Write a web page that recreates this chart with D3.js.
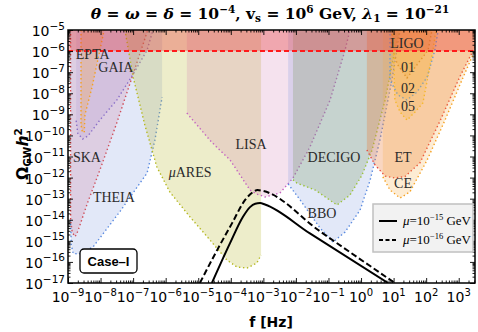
<!DOCTYPE html>
<html lang="en">
<meta charset="utf-8">
<title>GW spectrum vs detector sensitivities</title>
<style>
  body { margin: 0; background: #fff; }
  svg { font-family: "DejaVu Sans", sans-serif; }
  .det { font-family: "Liberation Serif", serif; font-size: 14px; fill: #2a2a2a; }
  .tick-label { font-size: 14px; fill: #000; }
</style>
<body>
<svg class="chart" width="478" height="332"></svg>
<script src="https://d3js.org/d3.v7.min.js"></script>
<script>
// all curves as [log10 f/Hz, log10 Omega h^2]
var ska    = [[-8.92,-5],[-8.92,-14.0],[-8.87,-14.6],[-8.78,-14.8],[-8.70,-14.55],[-8.40,-13.2],[-8.02,-11.64],[-7.50,-9.4],[-7.03,-7.23],[-6.55,-5]];
var theia  = [[-8.92,-14.0],[-8.90,-15.2],[-8.84,-15.6],[-8.65,-15.62],[-8.23,-15.29],[-7.40,-13.6],[-6.57,-11.78],[-6.33,-10.22],[-6.11,-8.18]];
var gaia   = [[-8.75,-9.3],[-8.70,-9.9],[-8.55,-10.17],[-8.39,-10.03],[-8.02,-9.27],[-7.50,-8.32],[-7.00,-7.1],[-6.57,-5.95],[-6.39,-5]];
var epta   = [[-8.60,-5],[-8.60,-9.5],[-8.56,-9.82],[-8.50,-9.86],[-8.48,-9.03],[-8.26,-7.70],[-8.02,-5.95],[-7.89,-5]];
var mares  = [[-7.25,-5],[-7.00,-7.23],[-6.64,-9.51],[-6.27,-11.50],[-5.87,-12.69],[-5.25,-13.87],[-4.64,-14.96],[-4.12,-15.91],[-3.81,-16.24],[-3.50,-16.29],[-3.20,-16.05],[-3.07,-15.67]];
var lisa   = [[-5.35,-8.94],[-4.60,-10.3],[-4.02,-11.17],[-3.41,-12.59],[-3.20,-12.78],[-2.95,-12.92],[-2.49,-12.73],[-2.09,-12.02],[-1.57,-10.55],[-0.95,-8.32],[-0.49,-5.95],[-0.34,-5]];
var bbo    = [[-2.24,-12.3],[-1.87,-13.06],[-1.26,-14.39],[-0.86,-15.06],[-0.49,-14.58],[-0.03,-13.54],[0.28,-12.12],[0.58,-10.22],[0.95,-7.37],[1.20,-5]];
var decigo = [[-2.09,-12.1],[-1.97,-12.26],[-1.41,-12.59],[-0.74,-13.30],[-0.34,-12.83],[0.03,-11.88],[0.34,-10.69],[0.74,-8.32],[1.04,-5.95],[1.20,-5]];
var et     = [[0.18,-10.69],[0.43,-11.4],[0.74,-11.93],[1.04,-12.02],[1.35,-11.95],[1.81,-11.3],[2.43,-9.3],[3.04,-7.2],[3.50,-5.8],[3.70,-5]];
var ce     = [[0.67,-11.97],[0.89,-12.59],[1.20,-12.97],[1.50,-12.68],[2.03,-11.17],[2.58,-9.27],[3.10,-7.37],[3.50,-5.95],[3.62,-5]];
var o1     = [[0.95,-5],[0.95,-5.95],[1.13,-6.66],[1.41,-7.28],[1.69,-6.71],[2.06,-5.95],[2.18,-5]];
var o2     = [[0.89,-5],[0.89,-7.37],[1.13,-8.08],[1.41,-8.32],[1.72,-7.94],[2.03,-7.23],[2.27,-5.95],[2.37,-5]];
var o5     = [[0.98,-5],[1.04,-8.32],[1.20,-8.89],[1.41,-9.27],[1.66,-8.89],[1.90,-8.46],[2.21,-5.95],[2.30,-5]];

// spectra
var mu15 = [[-4.58,-17],[-4.02,-15.10],[-3.63,-13.87],[-3.41,-13.40],[-3.25,-13.24],[-3.10,-13.21],[-2.95,-13.28],[-1.57,-14.65],[0.83,-17]];
var mu16 = [[-4.95,-17],[-4.42,-15.44],[-3.96,-14.16],[-3.56,-13.06],[-3.32,-12.69],[-3.18,-12.59],[-3.02,-12.63],[-1.26,-14.55],[1.04,-17]];

var bound = -6;   // log10 of the excluded level (red dashed)

var detNames  = ["SKA","THEIA","GAIA","EPTA","μARES","LISA","BBO","DECIGO","ET","CE","01","02","05"];
var detCurves = [ska, theia, gaia, epta, mares, lisa, bbo, decigo, et, ce, o1, o2, o5];
var detFill   = ["#e0607a","#6e8cdc","#9a78c8","#f5a040","#bcbd3c","#d07ab0","#6e8cdc","#78965a","#eb7832","#f5aa3c","#f0a030","#f0a830","#f5b030"];
var detLine   = ["#e8403a","#5b8be0","#8a6fc8","#f5a020","#b5b820","#c464c0","#5b8be0","#9bc23a","#e8453a","#f5a020","#d88a30","#6a9ad0","#f5b82a"];
var detAlpha  = [0.2,0.2,0.15,0.28,0.27,0.22,0.2,0.26,0.3,0.22,0.22,0.2,0.22];

// label spots [log10 f, log10 Omega] (baselines)
var labelText = ["EPTA","GAIA","SKA","THEIA","μARES","LISA","DECIGO","BBO","ET","CE","LIGO","01","02","05"];
var labelPos  = [[-8.24,-6.38],[-7.53,-6.99],[-8.42,-11.26],[-7.59,-13.16],[-5.25,-11.97],[-3.38,-10.65],[-0.83,-11.26],[-1.2,-13.92],[1.29,-11.26],[1.29,-12.5],[1.41,-5.85],[1.44,-6.99],[1.44,-7.99],[1.44,-8.84]];

var xMajors = d3.range(-9, 4);
var yMajors = d3.range(-17, -4);

var svg = d3.select(".chart");
var x = d3.scaleLog().domain([1e-9, Math.pow(10, 3.5)]).range([68, 475]);
var y = d3.scaleLog().domain([1e-17, 1e-5]).range([283, 30]);
var X = function(p) { return x(Math.pow(10, p[0])); };
var Y = function(p) { return y(Math.pow(10, p[1])); };

svg.append("clipPath").attr("id", "plot")
  .append("rect").attr("x", 68).attr("y", 30).attr("width", 407).attr("height", 253);

var plot = svg.append("g").attr("clip-path", "url(#plot)");
var line = d3.line().x(X).y(Y);

detCurves.forEach(function(c, i) {
  var poly = [[c[0][0], -4]].concat(c, [[c[c.length - 1][0], -4]]);
  plot.append("path")
    .attr("d", line(poly) + "Z")
    .attr("fill", detFill[i])
    .attr("fill-opacity", detAlpha[i]);
  plot.append("path")
    .attr("d", line(c))
    .attr("fill", "none")
    .attr("stroke", detLine[i])
    .attr("stroke-width", 1.4)
    .attr("stroke-dasharray", "1.4,2.6");
});

// excluded band
plot.append("rect")
  .attr("x", 68).attr("width", 407)
  .attr("y", y(1e-4)).attr("height", y(Math.pow(10, bound)) - y(1e-4))
  .attr("fill", "#e83030").attr("fill-opacity", 0.33);
plot.append("line")
  .attr("x1", 68).attr("x2", 475)
  .attr("y1", y(Math.pow(10, bound))).attr("y2", y(Math.pow(10, bound)))
  .attr("stroke", "#ff1a1a").attr("stroke-width", 2)
  .attr("stroke-dasharray", "5,3");

// detector names (a leading μ is set in italic, as in math mode)
var names = plot.selectAll(".det").data(labelText).enter().append("text")
  .attr("class", "det")
  .attr("text-anchor", "middle")
  .attr("x", function(d, i) { return X(labelPos[i]); })
  .attr("y", function(d, i) { return Y(labelPos[i]); });
names.each(function(d) {
  var t = d3.select(this);
  if (d.charAt(0) === "μ") {
    t.append("tspan").attr("font-style", "italic").text("μ");
    t.append("tspan").text(d.slice(1));
  } else {
    t.text(d);
  }
});

// spectra
var smooth = d3.line().x(X).y(Y).curve(d3.curveMonotoneX);
plot.append("path").attr("d", smooth(mu15))
  .attr("fill", "none").attr("stroke", "#000").attr("stroke-width", 2);
plot.append("path").attr("d", smooth(mu16))
  .attr("fill", "none").attr("stroke", "#000").attr("stroke-width", 2)
  .attr("stroke-dasharray", "6,3");

// ticks
function minors(lo, hi) {
  var out = [];
  for (var k = lo; k < hi; k++) for (var m = 2; m < 10; m++) out.push(m * Math.pow(10, k));
  return out;
}
var xMaj = xMajors.map(function(k) { return Math.pow(10, k); });
var yMaj = yMajors.map(function(k) { return Math.pow(10, k); });
var xMin = minors(-9, 4).filter(function(v) { return v < Math.pow(10, 3.5); });
var yMin = minors(-17, -5);

function axisG(ax, tr) {
  var g = svg.append("g").attr("transform", tr).call(ax);
  g.select(".domain").remove();
  g.selectAll("text").remove();
  g.selectAll("line").attr("stroke-width", 0.9);
  return g;
}
axisG(d3.axisBottom(x).tickValues(xMaj).tickSize(-5), "translate(0,283)");
axisG(d3.axisBottom(x).tickValues(xMin).tickSize(-2.5), "translate(0,283)");
axisG(d3.axisTop(x).tickValues(xMaj).tickSize(-5), "translate(0,30)");
axisG(d3.axisTop(x).tickValues(xMin).tickSize(-2.5), "translate(0,30)");
axisG(d3.axisLeft(y).tickValues(yMaj).tickSize(-5), "translate(68,0)");
axisG(d3.axisLeft(y).tickValues(yMin).tickSize(-2.5), "translate(68,0)");
axisG(d3.axisRight(y).tickValues(yMaj).tickSize(-5), "translate(475,0)");
axisG(d3.axisRight(y).tickValues(yMin).tickSize(-2.5), "translate(475,0)");

svg.append("rect").attr("x", 68).attr("y", 30).attr("width", 407).attr("height", 253)
  .attr("fill", "none").attr("stroke", "#000").attr("stroke-width", 1.5);

// tick labels
var xl = svg.append("g").selectAll("text").data(xMajors).enter().append("text")
  .attr("class", "tick-label").attr("text-anchor", "middle")
  .attr("x", function(d) { return x(Math.pow(10, d)); }).attr("y", 302);
xl.append("tspan").text("10");
xl.append("tspan").attr("dy", -6.5).attr("font-size", "10px")
  .text(function(d) { return (d < 0 ? "−" : "") + Math.abs(d); });

var yl = svg.append("g").selectAll("text").data(yMajors).enter().append("text")
  .attr("class", "tick-label").attr("text-anchor", "end")
  .attr("x", 65).attr("y", function(d) { return y(Math.pow(10, d)) + 6; });
yl.append("tspan").text("10");
yl.append("tspan").attr("dy", -6.5).attr("font-size", "10.5px")
  .text(function(d) { return "−" + Math.abs(d); });

// axis titles
svg.append("text").attr("x", 271).attr("y", 327).attr("text-anchor", "middle")
  .attr("font-weight", "bold").attr("font-size", "14px").text("f [Hz]");

var yt = svg.append("text").attr("transform", "translate(28,180) rotate(-90)")
  .attr("font-weight", "bold").attr("font-size", "15.5px");
yt.append("tspan").text("Ω");
yt.append("tspan").attr("font-size", "10.5px").attr("dy", 3).text("GW");
yt.append("tspan").attr("font-style", "italic").attr("dy", -3).text("h");
yt.append("tspan").attr("font-size", "10.5px").attr("dy", -6.5).text("2");

// title
var title = svg.append("text").attr("x", 270).attr("y", 19).attr("text-anchor", "middle")
  .attr("font-family", "DejaVu Serif, serif").attr("font-weight", "bold").attr("font-size", "15.5px");
var parts = [["θ","i"],[" = ",""],["ω","i"],[" = ",""],["δ","i"],[" = 10",""],["−4","sup"],[",  v",""],["s","sub"],
             [" = 10",""],["6","sup"],[" GeV,  ",""],["λ","i"],["1","sub"],[" = 10",""],["−21","sup"]];
var shift = 0;
parts.forEach(function(p) {
  var t = title.append("tspan").text(p[0]);
  var want = p[1] === "sup" ? -6.5 : p[1] === "sub" ? 3 : 0;
  t.attr("dy", want - shift); shift = want;
  if (p[1] === "i") t.attr("font-style", "italic");
  if (p[1] === "sup" || p[1] === "sub") t.attr("font-size", "10.5px");
});

// Case box
svg.append("rect").attr("x", 80).attr("y", 249).attr("width", 57).attr("height", 24)
  .attr("rx", 4).attr("fill", "#fff").attr("stroke", "#000").attr("stroke-width", 1.3);
svg.append("text").attr("x", 108.5).attr("y", 266).attr("text-anchor", "middle")
  .attr("font-family", "Liberation Sans, sans-serif").attr("font-weight", "bold").attr("font-size", "13px")
  .text("Case–I");

// legend
var legendExp = ["−15", "−16"];
var lg = svg.append("g");
lg.append("rect").attr("x", 373).attr("y", 204).attr("width", 100).attr("height", 48)
  .attr("fill", "#f2f2f2").attr("stroke", "#c0c0c0").attr("stroke-width", 1.5);
legendExp.forEach(function(e, i) {
  var yy = 221 + i * 19;
  lg.append("line").attr("x1", 379).attr("x2", 397).attr("y1", yy).attr("y2", yy)
    .attr("stroke", "#000").attr("stroke-width", 2)
    .attr("stroke-dasharray", i ? "4,2.5" : null);
  var t = lg.append("text").attr("x", 403).attr("y", yy + 4)
    .attr("font-family", "Liberation Serif, serif").attr("font-size", "13px");
  t.append("tspan").attr("font-style", "italic").text("μ");
  t.append("tspan").text("=10");
  t.append("tspan").attr("dy", -5).attr("font-size", "8.5px").text(e);
  t.append("tspan").attr("dy", 5).text(" GeV");
});
</script>
</body>
</html>
